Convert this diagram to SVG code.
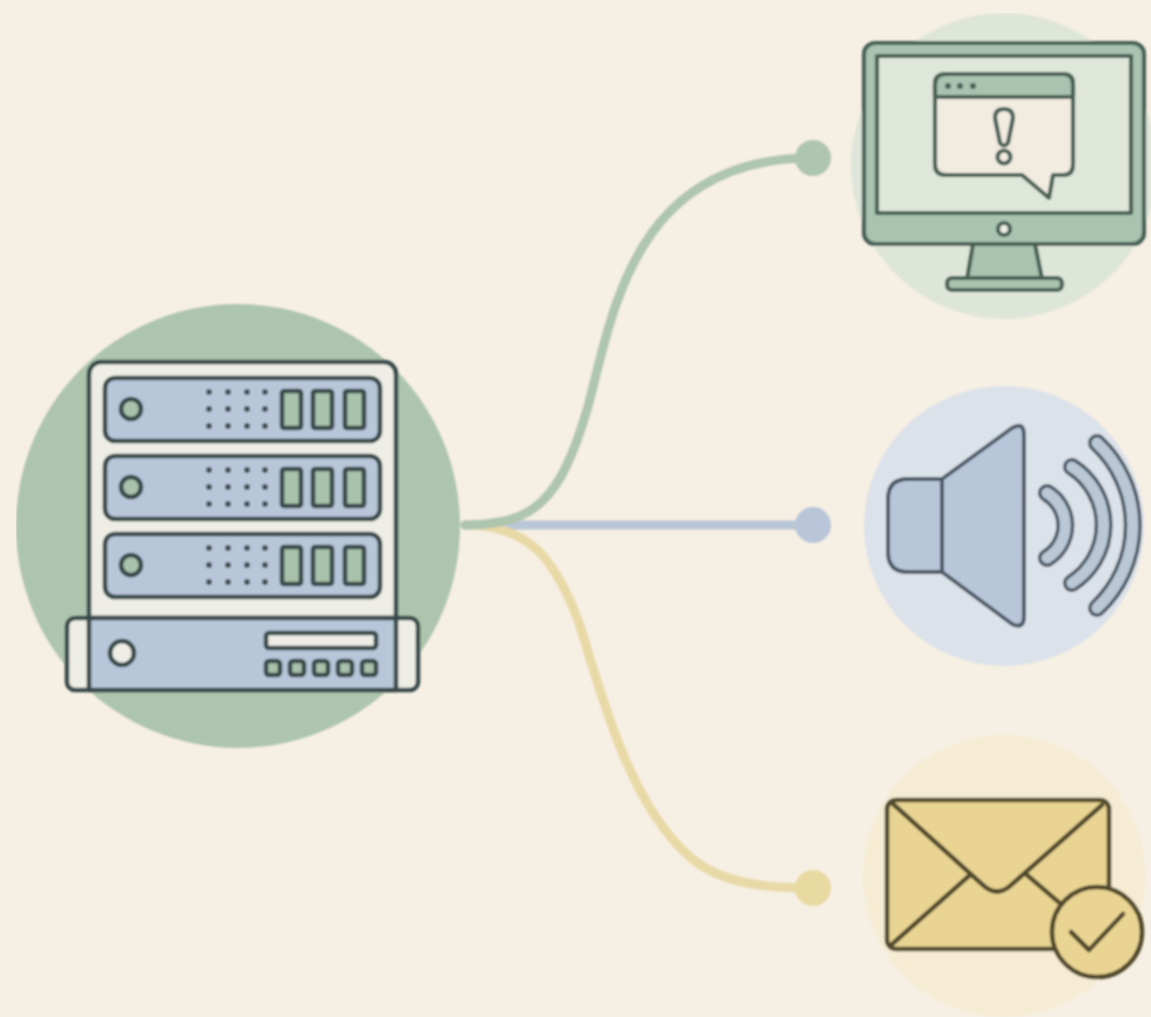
<svg xmlns="http://www.w3.org/2000/svg" width="1151" height="1017" viewBox="0 0 1151 1017">
<defs><style>
.s{stroke:#37494a;stroke-width:4.6;stroke-linejoin:round;stroke-linecap:round}
.b{fill:#b8c6da}.g{fill:#a9c2ab}.w{fill:#eeeee6}
.gs{stroke:#465f54;stroke-width:4.2;stroke-linejoin:round;stroke-linecap:round}
.ms{fill:#a9c3b0}
.y{stroke:#514a2c;stroke-width:4.6;stroke-linejoin:round;stroke-linecap:round}
.d{fill:#3f5052}
.c{fill:none;stroke-width:9;stroke-linecap:round}
.v{stroke:#4a5764;stroke-width:4;stroke-linejoin:round;stroke-linecap:round;fill:#b8c6da}
.wo{fill:none;stroke:#4a5764;stroke-width:18;stroke-linecap:round}
.wi{fill:none;stroke:#bac8d6;stroke-width:11;stroke-linecap:round}
</style>
<filter id="soft" x="0" y="0" width="100%" height="100%"><feGaussianBlur stdDeviation="0.8"/></filter>
<g id="unit"><rect class="s b" x="105" y="378" width="275" height="63" rx="10"/><circle class="s g" cx="131" cy="409" r="10"/>
<g class="d"><circle cx="209" cy="392" r="3"/><circle cx="228" cy="392" r="3"/><circle cx="247" cy="392" r="3"/><circle cx="265" cy="392" r="3"/><circle cx="209" cy="409" r="3"/><circle cx="228" cy="409" r="3"/><circle cx="247" cy="409" r="3"/><circle cx="265" cy="409" r="3"/><circle cx="209" cy="426" r="3"/><circle cx="228" cy="426" r="3"/><circle cx="247" cy="426" r="3"/><circle cx="265" cy="426" r="3"/></g>
<rect class="s g" x="282" y="391" width="19" height="37" rx="2"/><rect class="s g" x="313" y="391" width="19" height="37" rx="2"/><rect class="s g" x="345" y="391" width="19" height="37" rx="2"/></g>
</defs>
<rect width="1151" height="1017" fill="#f6efe3"/>
<g filter="url(#soft)">
<g id="connectors">
<path class="c" stroke="#b9c6d6" d="M465 525H812"/>
<path class="c" stroke="#e8d9a6" d="M465 525C530 525 555 560 578 620C598 680 625 800 690 857C722 885 770 888 812 888"/>
<path class="c" stroke="#aec5ae" d="M465 525C535 525 560 500 587 410C612 320 630 158 812 158"/>
<circle cx="813" cy="158" r="18" fill="#aec5ae"/><circle cx="813" cy="525" r="18" fill="#b9c6d9"/><circle cx="813" cy="888" r="18" fill="#e8d9a0"/>
</g>
<g id="server">
<circle cx="238" cy="526" r="222" fill="#aec5ad"/>
<rect class="s w" x="89" y="362" width="307" height="300" rx="12"/>
<use href="#unit"/><use href="#unit" y="78"/><use href="#unit" y="156"/>
<rect class="s w" x="67" y="618" width="351" height="72" rx="8"/>
<rect class="s b" x="89" y="618" width="307" height="72"/>
<circle class="s w" cx="122" cy="653" r="12"/>
<rect class="s w" x="266" y="633" width="110" height="15" rx="3"/>
<g><rect class="s g" x="266" y="661" width="14" height="14" rx="3"/><rect class="s g" x="290" y="661" width="14" height="14" rx="3"/><rect class="s g" x="314" y="661" width="14" height="14" rx="3"/><rect class="s g" x="338" y="661" width="14" height="14" rx="3"/><rect class="s g" x="362" y="661" width="14" height="14" rx="3"/></g>
</g>
<g id="monitor">
<circle cx="1004" cy="166" r="153" fill="#dde6d8"/>
<path class="gs ms" d="M973 244L967 279H1042L1035 244Z"/>
<rect class="gs ms" x="947" y="278" width="115" height="12" rx="5"/>
<rect class="gs ms" x="864" y="43" width="280" height="201" rx="11"/>
<rect class="gs" fill="#dfe7da" x="877" y="56" width="254" height="157"/>
<circle class="gs" fill="#eef0e8" cx="1004" cy="229" r="6"/>
<path class="gs" fill="#f2ebe0" d="M946 74H1063Q1073 74 1073 84V165Q1073 175 1063 175H1053L1049 198L1022 175H946Q935 175 935 165V84Q935 74 946 74Z"/>
<path class="gs ms" d="M935 97V84Q935 74 946 74H1063Q1073 74 1073 84V97Z"/>
<g fill="#465f54"><circle cx="948" cy="86" r="3"/><circle cx="960" cy="86" r="3"/><circle cx="973" cy="86" r="3"/></g>
<path class="gs" fill="#f2ebe0" d="M995 118Q995 109 1004 109Q1013 109 1013 118L1008 143Q1004 148 1000 143Z"/>
<circle class="gs" fill="#f2ebe0" cx="1004" cy="157" r="6.5"/>
</g>
<g id="speaker">
<circle cx="1004" cy="526" r="140" fill="#dbe2ea"/>
<path class="v" d="M942 479H908Q888 479 888 499V552Q888 572 908 572H942Z"/>
<path class="v" d="M942 479L1012 428Q1024 421 1024 435V616Q1024 630 1012 624L942 572Z"/>
<path class="wo" d="M1047 493A38 38 0 0 1 1047 558"/><path class="wi" d="M1047 493A38 38 0 0 1 1047 558"/>
<path class="wo" d="M1072 467A69 69 0 0 1 1072 583"/><path class="wi" d="M1072 467A69 69 0 0 1 1072 583"/>
<path class="wo" d="M1097 443A113 113 0 0 1 1097 608"/><path class="wi" d="M1097 443A113 113 0 0 1 1097 608"/>
</g>
<g id="mail">
<circle cx="1004" cy="876" r="141" fill="#f5ecd3"/>
<rect class="y" fill="#e9d493" x="887" y="800" width="222" height="149" rx="9"/>
<path class="y" fill="none" d="M890 946L970 875M1027 875L1062 905M892 803L984 886Q997 897 1010 886L1102 805"/>
<circle class="y" fill="#e9d493" cx="1097" cy="932" r="45"/>
<path class="y" fill="none" d="M1071 932L1089 950L1123 914"/>
</g>
</g>
</svg>
